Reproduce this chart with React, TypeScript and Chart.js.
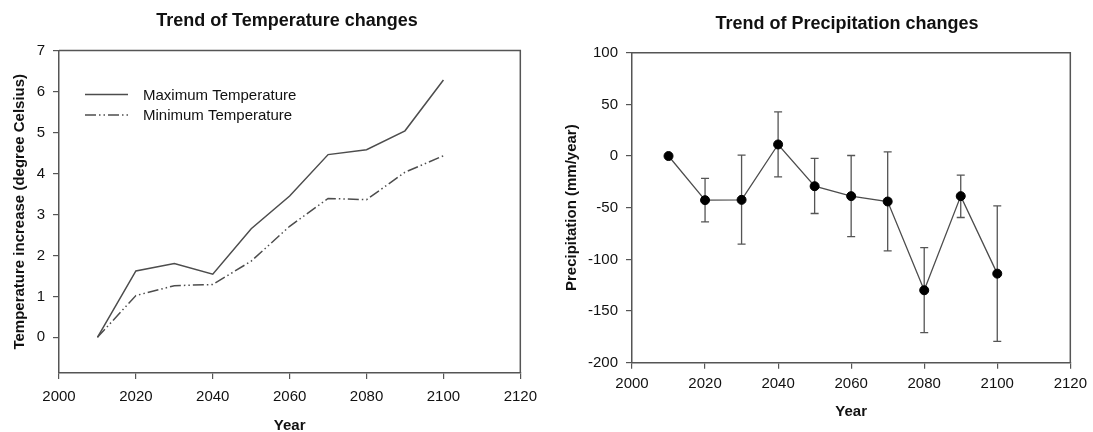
import React, { useEffect, useRef } from 'react';
import { Chart, registerables } from 'chart.js';

Chart.register(...registerables);

// ---- data ----
const years = [2010, 2020, 2030, 2040, 2050, 2060, 2070, 2080, 2090, 2100];
const maxTemp = [0, 1.62, 1.8, 1.54, 2.65, 3.45, 4.46, 4.58, 5.04, 6.28];
const minTemp = [0, 1.02, 1.26, 1.29, 1.86, 2.71, 3.39, 3.36, 4.03, 4.43];
const precip = [0, -42.7, -42.4, 11.2, -29.2, -38.8, -44, -129.9, -38.8, -113.8];
const precipUpper = [null, -21.7, 0.9, 42.8, -2.3, 0.5, 4.1, -88.6, -18.5, -48.2];
const precipLower = [null, -63.7, -85.3, -20.1, -55.6, -77.9, -91.8, -170.9, -59.5, -179.3];
const xTicks = [2000, 2020, 2040, 2060, 2080, 2100, 2120];
const tempTicks = [0, 1, 2, 3, 4, 5, 6, 7];
const precipTicks = [-200, -150, -100, -50, 0, 50, 100];

const FONT = "'Liberation Sans', Arial, Helvetica, sans-serif";
const AXIS = '#555';
const TEXT = '#111';

const framePlugin = {
  id: 'frame',
  afterDatasetsDraw(chart: any) {
    const { ctx, chartArea } = chart;
    const { left, right, top, bottom } = chartArea;
    ctx.save();
    ctx.strokeStyle = AXIS;
    ctx.lineWidth = 1.5;
    ctx.beginPath();
    ctx.moveTo(left, top);
    ctx.lineTo(right, top);
    ctx.lineTo(right, bottom);
    ctx.stroke();
    ctx.restore();
  },
};

const legendPlugin = {
  id: 'insideLegend',
  afterDatasetsDraw(chart: any) {
    const { ctx, chartArea } = chart;
    const x0 = chartArea.left + 26;
    const lineLen = 43;
    const textX = chartArea.left + 84;
    const rowY = [chartArea.top + 44, chartArea.top + 64.5];
    ctx.save();
    chart.data.datasets.forEach((ds: any, i: number) => {
      const y = rowY[i];
      ctx.strokeStyle = ds.borderColor;
      ctx.lineWidth = ds.borderWidth;
      ctx.setLineDash(ds.borderDash || []);
      ctx.beginPath();
      ctx.moveTo(x0, y);
      ctx.lineTo(x0 + lineLen, y);
      ctx.stroke();
      ctx.setLineDash([]);
      ctx.fillStyle = TEXT;
      ctx.font = `15px ${FONT}`;
      ctx.textBaseline = 'middle';
      ctx.textAlign = 'left';
      ctx.fillText(ds.label, textX, y + 1);
    });
    ctx.restore();
  },
};

const errorBarPlugin = {
  id: 'errorBars',
  beforeDatasetsDraw(chart: any) {
    const { ctx } = chart;
    const xs = chart.scales.x;
    const ys = chart.scales.y;
    ctx.save();
    ctx.strokeStyle = AXIS;
    ctx.lineWidth = 1.3;
    years.forEach((yr, i) => {
      const hi = precipUpper[i];
      const lo = precipLower[i];
      if (hi == null || lo == null) return;
      const px = xs.getPixelForValue(yr);
      const pt = ys.getPixelForValue(hi);
      const pb = ys.getPixelForValue(lo);
      ctx.beginPath();
      ctx.moveTo(px, pt);
      ctx.lineTo(px, pb);
      ctx.moveTo(px - 4, pt);
      ctx.lineTo(px + 4, pt);
      ctx.moveTo(px - 4, pb);
      ctx.lineTo(px + 4, pb);
      ctx.stroke();
    });
    ctx.restore();
  },
};

function xScale(height: number, tickPad: number, titleLineHeight: number, titlePadBottom: number) {
  return {
    type: 'linear',
    min: 2000,
    max: 2120,
    afterBuildTicks: (s: any) => {
      s.ticks = xTicks.map((v) => ({ value: v }));
    },
    afterFit: (s: any) => {
      s.height = height;
    },
    ticks: {
      callback: (v: any) => String(v),
      font: { family: FONT, size: 15 },
      color: TEXT,
      padding: tickPad,
      maxRotation: 0,
      autoSkip: false,
    },
    grid: { drawOnChartArea: false, tickLength: 6, color: AXIS, lineWidth: 1.2 },
    border: { color: AXIS, width: 1.5 },
    title: {
      display: true,
      text: 'Year',
      font: { family: FONT, size: 15, weight: 'bold', lineHeight: titleLineHeight },
      color: TEXT,
      padding: { top: 0, bottom: titlePadBottom },
    },
  };
}

function yScale(min: number, max: number, ticks: number[], width: number, title: string, titlePadTop: number) {
  return {
    type: 'linear',
    min,
    max,
    afterBuildTicks: (s: any) => {
      s.ticks = ticks.map((v) => ({ value: v }));
    },
    afterFit: (s: any) => {
      s.width = width;
    },
    ticks: {
      callback: (v: any) => String(v),
      font: { family: FONT, size: 15 },
      color: TEXT,
      padding: 8,
      autoSkip: false,
    },
    grid: { drawOnChartArea: false, tickLength: 6, color: AXIS, lineWidth: 1.2 },
    border: { color: AXIS, width: 1.5 },
    title: {
      display: true,
      text: title,
      font: { family: FONT, size: 15, weight: 'bold' },
      color: TEXT,
      padding: { top: titlePadTop, bottom: 0 },
    },
  };
}

function TempChart() {
  const ref = useRef<HTMLCanvasElement>(null);
  useEffect(() => {
    const chart = new Chart(ref.current as HTMLCanvasElement, {
      type: 'line',
      data: {
        datasets: [
          {
            label: 'Maximum Temperature',
            data: years.map((x, i) => ({ x, y: maxTemp[i] })),
            borderColor: '#4d4d4d',
            borderWidth: 1.5,
            pointRadius: 0,
            tension: 0,
            fill: false,
          },
          {
            label: 'Minimum Temperature',
            data: years.map((x, i) => ({ x, y: minTemp[i] })),
            borderColor: '#4d4d4d',
            borderWidth: 1.5,
            borderDash: [11, 3, 1.5, 3, 1.5, 3],
            pointRadius: 0,
            tension: 0,
            fill: false,
          },
        ],
      },
      options: {
        animation: false,
        responsive: false,
        layout: { padding: { top: 50.5, right: 25, bottom: 0, left: 0 } },
        plugins: { legend: { display: false }, tooltip: { enabled: false }, title: { display: false } },
        scales: {
          x: xScale(59, 9, 0.8, 0),
          y: yScale(-0.87, 7, tempTicks, 59, 'Temperature increase (degree Celsius)', 10.5),
        } as any,
      },
      plugins: [framePlugin, legendPlugin],
    } as any);
    return () => chart.destroy();
  }, []);
  return <canvas ref={ref} width={546} height={432} style={{ position: 'absolute', left: 0, top: 0, width: 546, height: 432 }} />;
}

function PrecipChart() {
  const ref = useRef<HTMLCanvasElement>(null);
  useEffect(() => {
    const chart = new Chart(ref.current as HTMLCanvasElement, {
      type: 'line',
      data: {
        datasets: [
          {
            label: 'Precipitation',
            data: years.map((x, i) => ({ x, y: precip[i] })),
            borderColor: '#4d4d4d',
            borderWidth: 1.3,
            pointRadius: 4.5,
            pointBackgroundColor: '#000',
            pointBorderColor: '#000',
            pointBorderWidth: 1,
            tension: 0,
            fill: false,
          },
        ],
      },
      options: {
        animation: false,
        responsive: false,
        layout: { padding: { top: 52.7, right: 18, bottom: 0, left: 0 } },
        plugins: { legend: { display: false }, tooltip: { enabled: false }, title: { display: false } },
        scales: {
          x: xScale(69.3, 6, 1.2, 11),
          y: yScale(-200, 100, precipTicks, 86, 'Precipitation (mm/year)', 17),
        } as any,
      },
      plugins: [framePlugin, errorBarPlugin],
    } as any);
    return () => chart.destroy();
  }, []);
  return <canvas ref={ref} width={547} height={432} style={{ position: 'absolute', left: 546, top: 0, width: 547, height: 432 }} />;
}

const titleStyle = (cx: number, cy: number): React.CSSProperties => ({
  position: 'absolute',
  left: cx - 200,
  top: cy - 10,
  width: 400,
  height: 20,
  lineHeight: '20px',
  textAlign: 'center',
  fontFamily: FONT,
  fontWeight: 'bold',
  fontSize: 18,
  color: TEXT,
  whiteSpace: 'nowrap',
});

export default function App() {
  return (
    <div style={{ position: 'absolute', left: 0, top: 0, width: 1093, height: 432, background: '#fff', overflow: 'hidden' }}>
      <TempChart />
      <PrecipChart />
      <div style={titleStyle(287, 19.5)}>Trend of Temperature changes</div>
      <div style={titleStyle(847, 22.5)}>Trend of Precipitation changes</div>
    </div>
  );
}
